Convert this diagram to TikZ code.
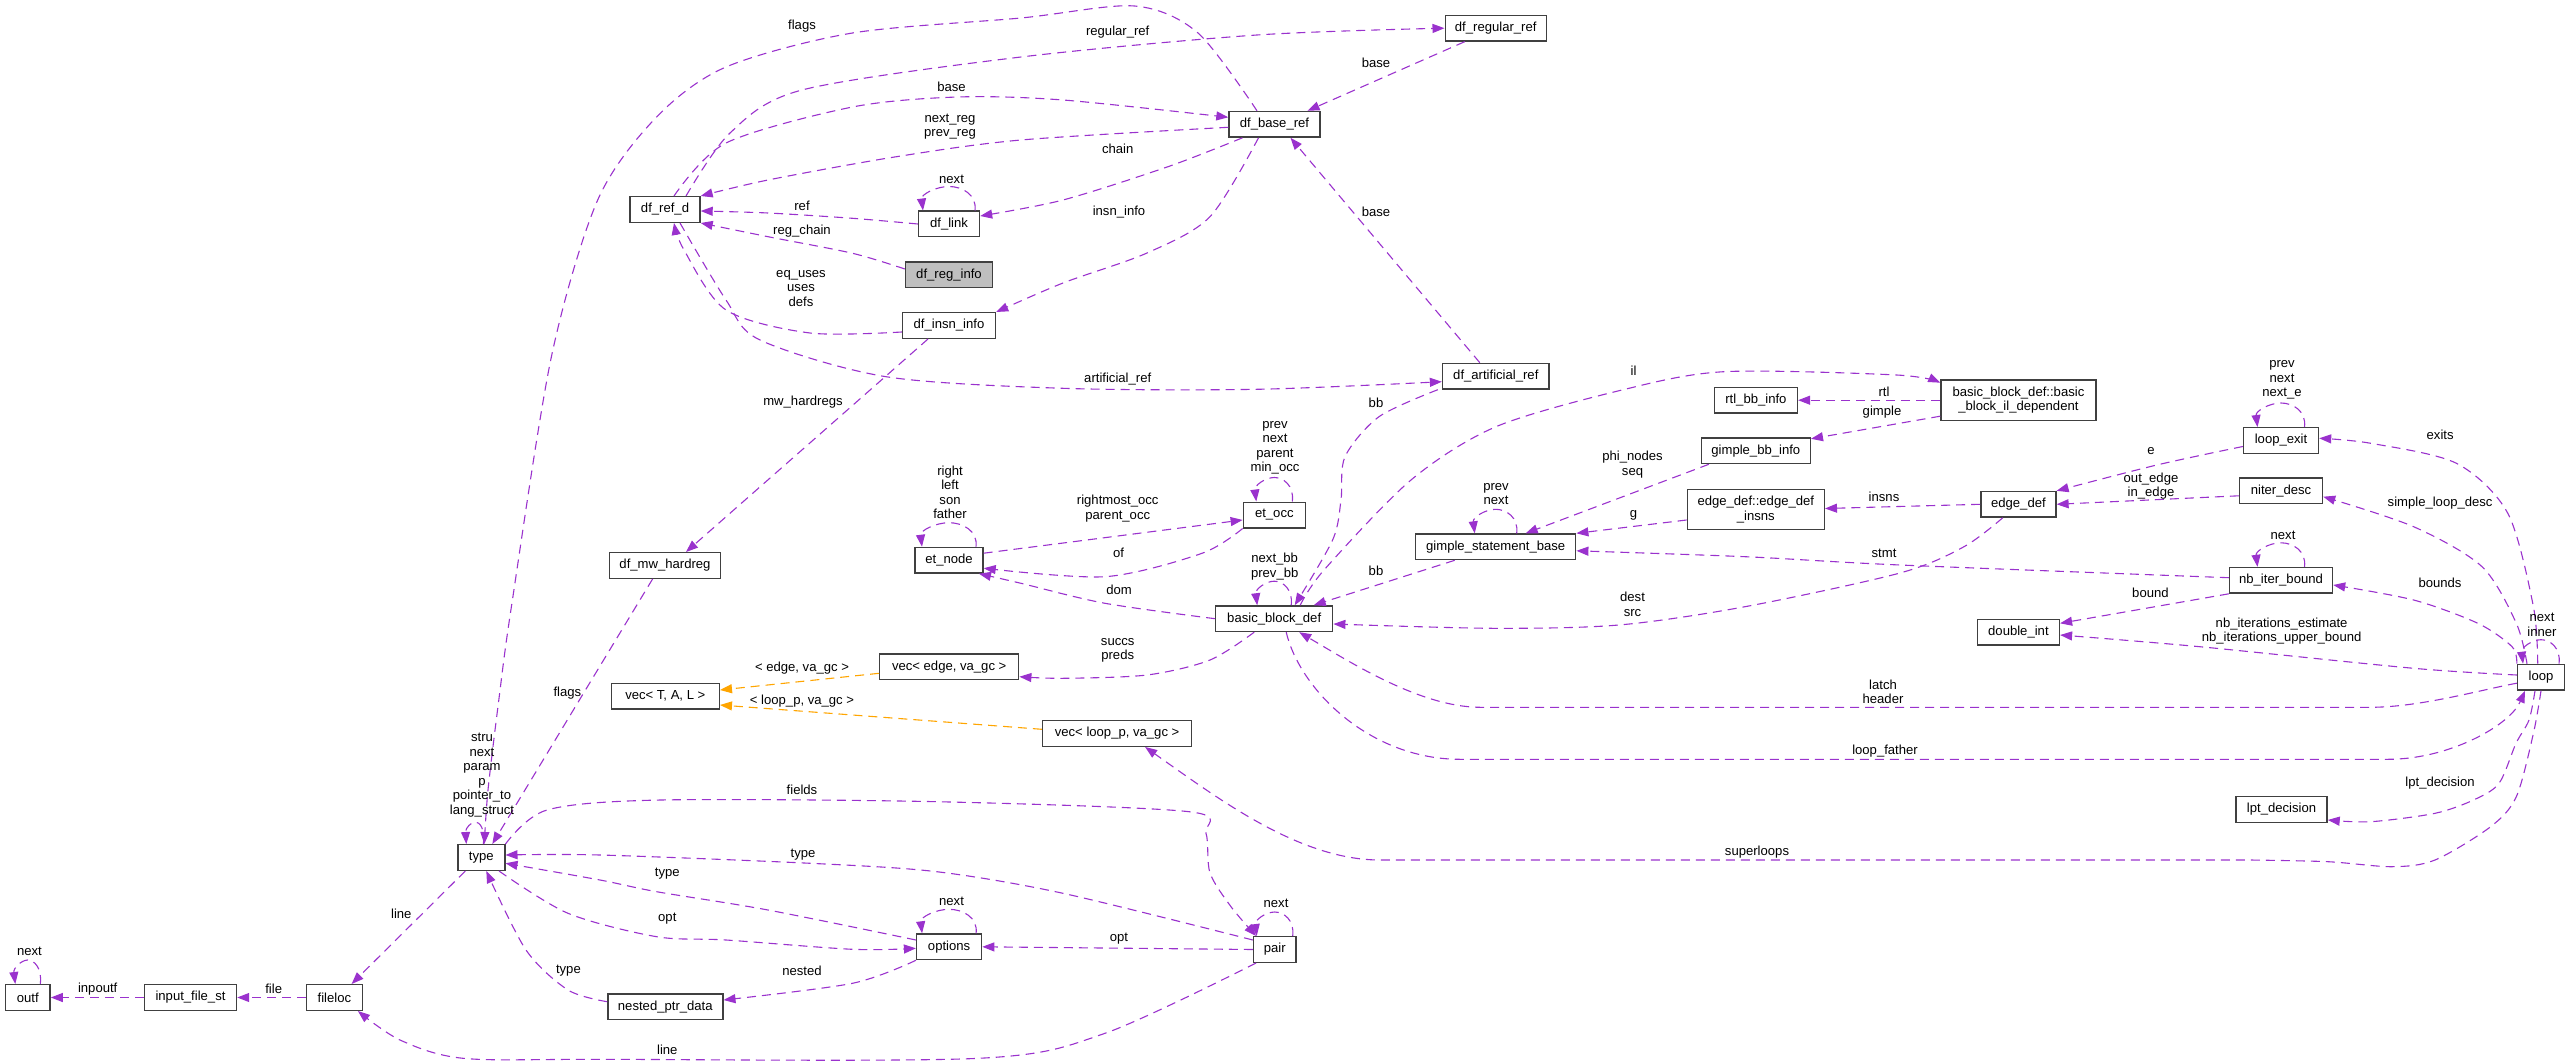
\documentclass[tikz,border=0pt]{standalone}
\usepackage{fontspec}
\setmainfont{Liberation Sans}
\usetikzlibrary{arrows.meta,calc}
\definecolor{ep}{HTML}{9A32CD}
\definecolor{eo}{HTML}{FFA500}
\definecolor{bd}{HTML}{404040}
\definecolor{gf}{HTML}{BFBFBF}
\newcommand\lblfont{\fontsize{13.1}{14.5}\selectfont}
\tikzset{
 cls/.style={draw=bd, line width=1.4pt, fill=white, minimum height=25.6pt, inner sep=0pt, font=\lblfont, text=black, align=center},
 edge/.style={draw=ep, line width=1.1pt, dash pattern=on 9pt off 6pt, -{Triangle[length=12pt,width=9pt]}},
 tedge/.style={edge, draw=eo},
 lab/.style={font=\lblfont, align=center, inner sep=0pt, text=black},
}
% self loop: node, half width
\newcommand\mkloop[2]{%
 \draw[edge] ($(#1.north)+(#2,0)$) .. controls ($(#1.north)+(#2+2,-16)$) and ($(#1.north)+(#2*0.5,-24)$) .. ($(#1.north)+(0,-24)$) .. controls ($(#1.north)+(-#2*0.5,-24)$) and ($(#1.north)+(-#2-2,-16)$) .. ($(#1.north)+(-#2,0)$);}
\begin{document}
\begin{tikzpicture}[x=1pt,y=-1pt]
\useasboundingbox (0,0) rectangle (2571,1064);
% ---------------- nodes
\node[cls, minimum width=70pt] (dfrefd) at (665,209.5) {df\_ref\_d};
\node[cls, minimum width=61pt] (dflink) at (949,224) {df\_link};
\node[cls, minimum width=87pt, fill=gf] (dfreginfo) at (949,275) {df\_reg\_info};
\node[cls, minimum width=93pt] (dfinsninfo) at (949,325.5) {df\_insn\_info};
\node[cls, minimum width=91pt] (dfbaseref) at (1274.5,124.3) {df\_base\_ref};
\node[cls, minimum width=101pt] (dfregularref) at (1495.7,28.2) {df\_regular\_ref};
\node[cls, minimum width=106.5pt] (dfartificialref) at (1495.8,376.2) {df\_artificial\_ref};
\node[cls, minimum width=62pt] (etocc) at (1274.3,515) {et\_occ};
\node[cls, minimum width=117pt] (bbdef) at (1274.2,618.7) {basic\_block\_def};
\node[cls, minimum width=160pt] (gsb) at (1495.7,546.8) {gimple\_statement\_base};
\node[cls, minimum width=83pt] (rtlbb) at (1755.9,400.2) {rtl\_bb\_info};
\node[cls, minimum width=109pt] (gimplebb) at (1755.8,450.8) {gimple\_bb\_info};
\node[cls, minimum width=137pt, minimum height=40.4pt] (edgeinsns) at (1755.8,509.5) {edge\_def::edge\_def\\\_insns};
\node[cls, minimum width=155pt, minimum height=40.4pt] (bbil) at (2018.4,400.2) {basic\_block\_def::basic\\\_block\_il\_dependent};
\node[cls, minimum width=75pt] (loopexit) at (2281,440.5) {loop\_exit};
\node[cls, minimum width=75pt] (edgedef) at (2018.4,504.3) {edge\_def};
\node[cls, minimum width=83pt] (niter) at (2281,490.8) {niter\_desc};
\node[cls, minimum width=103pt] (nbiter) at (2281,580.3) {nb\_iter\_bound};
\node[cls, minimum width=82pt] (doubleint) at (2018.4,632.2) {double\_int};
\node[cls, minimum width=47pt] (loop) at (2541,677.2) {loop};
\node[cls, minimum width=111pt] (dfmw) at (665,565.5) {df\_mw\_hardreg};
\node[cls, minimum width=68pt] (etnode) at (949,560.2) {et\_node};
\node[cls, minimum width=139pt] (vecedge) at (949.2,666.7) {vec< edge, va\_gc >};
\node[cls, minimum width=108pt] (vectal) at (665.3,696.3) {vec< T, A, L >};
\node[cls, minimum width=149pt] (vecloop) at (1117.1,733.5) {vec< loop\_p, va\_gc >};
\node[cls, minimum width=65pt] (options) at (949.1,946.8) {options};
\node[cls, minimum width=115pt] (nested) at (665.3,1006.7) {nested\_ptr\_data};
\node[cls, minimum width=42.5pt] (pair) at (1274.7,949.5) {pair};
\node[cls, minimum width=47pt] (type) at (481.3,857.5) {type};
\node[cls, minimum width=44.6pt] (outf) at (27.8,997.5) {outf};
\node[cls, minimum width=92pt] (inputfile) at (190.5,997.5) {input\_file\_st};
\node[cls, minimum width=56pt] (fileloc) at (334.4,997.5) {fileloc};
\node[cls, minimum width=91pt] (lpt) at (2281.5,809.5) {lpt\_decision};
% ---------------- edges
\draw[edge] plot[smooth] coordinates {([xshift=-17.5pt]dfbaseref.north) (1198,33) (1134.5,6) (1021,18) (852.5,33) (726,67) (656.6,117) (597.7,200) (551.4,356.7) (511.4,606.7) (498.8,700) (488,790) ([xshift=3pt]type.north)};
\draw[edge] plot[smooth] coordinates {([xshift=21pt]dfrefd.north) (730,133) (802,90) (1021,57) (1257,35) (dfregularref.west)};
\draw[edge] plot[smooth] coordinates {([xshift=9pt]dfrefd.north) (726,143) (852.5,107) (957.8,97) (1063,100) ([yshift=7pt]dfbaseref.west)};
\draw[edge] plot[smooth] coordinates {([yshift=-3pt]dfbaseref.west) (1021,140) (894.6,157) (768,180) (dfrefd.north east)};
\draw[edge] plot[smooth] coordinates {([xshift=-32pt]dfbaseref.south) (1168,166.7) (1063,200) ([yshift=8pt]dflink.east)};
\draw[edge] plot[smooth] coordinates {(dflink.west) (852.5,218.3) (768,213) ([yshift=-1.5pt]dfrefd.east)};
\mkloop{dflink}{26}
\draw[edge] plot[smooth] coordinates {([yshift=6pt]dfreginfo.west) (852.5,253.3) (768,236.7) (dfrefd.south east)};
\draw[edge] plot[smooth] coordinates {([yshift=-6.5pt]dfinsninfo.west) (810,333) (726,310) (684,250) ([xshift=9pt]dfrefd.south)};
\draw[edge] plot[smooth] coordinates {([xshift=-16pt]dfbaseref.south) (1210,216.7) (1147,253) (1063,283) (dfinsninfo.north east)};
\draw[edge] plot[smooth] coordinates {([xshift=15pt]dfrefd.south) (726,300) (760,340) (886,376.7) (1063,388.3) (1256.6,389.3) ([yshift=-5.5pt]dfartificialref.west)};
\draw[edge] ([xshift=-21pt]dfinsninfo.south) -- ([xshift=21pt]dfmw.north);
\draw[edge] ([xshift=-31pt]dfregularref.south) -- ([xshift=33pt]dfbaseref.north);
\draw[edge] ([xshift=-16pt]dfartificialref.north) -- ([xshift=16pt]dfbaseref.south);
\draw[edge] plot[smooth] coordinates {([xshift=-58pt]dfartificialref.south) (1379,416.7) (1345,456.7) (1341,500) (1332.6,540) ([xshift=20.5pt]bbdef.north)};
\draw[edge] plot[smooth] coordinates {([xshift=26pt]bbdef.north) (1324,570) (1411,480) (1496,426.7) (1622,390) (1724,371.7) (1896.6,375) ([yshift=17.5pt]bbil.west)};
\draw[edge] (bbil.west) -- (rtlbb.east);
\draw[edge] ([yshift=-16pt]bbil.west) -- ([yshift=12pt]gimplebb.east);
\draw[edge] ([xshift=-47pt]gimplebb.south) -- ([xshift=30pt]gsb.north);
\mkloop{gsb}{21}
\draw[edge] ([yshift=-10.5pt]edgeinsns.west) -- (gsb.north east);
\draw[edge] (edgedef.west) -- ([yshift=1pt]edgeinsns.east);
\draw[edge] plot[smooth] coordinates {([yshift=2.6pt]nbiter.west) (1900,565) (1745,556.7) ([yshift=-4pt]gsb.east)};
\draw[edge] ([xshift=-41pt]gsb.south) -- ([xshift=39.5pt]bbdef.north);
\draw[edge] plot[smooth] coordinates {([xshift=-15.7pt]edgedef.south) (1964,546.7) (1900,573) (1745,606.7) (1618.8,625) (1492.5,628.3) ([yshift=-5.3pt]bbdef.east)};
\mkloop{bbdef}{17}
\mkloop{etocc}{18}
\draw[edge] ([yshift=7pt]etnode.east) -- ([yshift=-5pt]etocc.west);
\draw[edge] plot[smooth] coordinates {(etocc.south west) (1202,553.3) (1105,576.7) ([yshift=-8pt]etnode.east)};
\mkloop{etnode}{27}
\draw[edge] plot[smooth] coordinates {(bbdef.west) (1105,603.3) (1021,583.3) ([xshift=30pt]etnode.south)};
\draw[edge] plot[smooth] coordinates {([xshift=-20pt]bbdef.south) (1210,660) (1147,675) (1063,678.3) ([yshift=-10pt]vecedge.east)};
\draw[tedge] ([yshift=-6.6pt]vecedge.west) -- ([yshift=6.3pt]vectal.east);
\draw[tedge] ([yshift=4.2pt]vecloop.west) -- ([yshift=-8.7pt]vectal.east);
\draw[edge] ([xshift=-12.4pt]dfmw.south) -- ([xshift=11pt]type.north);
\draw[edge] ($(type.north)+(2,0)$) .. controls ($(type.north)+(4,-16)$) and ($(type.north)+(-2,-22)$) .. ($(type.north)+(-6,-22)$) .. controls ($(type.north)+(-10,-22)$) and ($(type.north)+(-16,-16)$) .. ($(type.north)+(-15,0)$);
\draw[edge] plot[smooth] coordinates {(type.north east) (547,810) (660.8,800) (936.7,801.7) (1189,811.7) (1206,833.3) (1210,873) (1231,906.7) ([xshift=-18.7pt]pair.north)};
\mkloop{pair}{18}
\draw[edge] plot[smooth] coordinates {([yshift=9.5pt]pair.west) (1063,893.3) (936.7,871.7) (810.5,863.3) (600,855) ([yshift=2.5pt]type.east)};
\draw[edge] plot[smooth] coordinates {([yshift=6.8pt]options.west) (768,910) (656.6,891.7) (600,880) ([yshift=-5.8pt]type.east)};
\draw[edge] plot[smooth] coordinates {([xshift=17.7pt]type.south) (568,913.3) (656.6,936.7) (726,940) (852.5,949.3) ([yshift=-1.5pt]options.west)};
\mkloop{options}{27}
\draw[edge] (pair.west) -- (options.east);
\draw[edge] plot[smooth] coordinates {(options.south west) (852.5,983.3) ([yshift=6.7pt]nested.east)};
\draw[edge] plot[smooth] coordinates {([yshift=5pt]nested.west) (568,990) (526,950) ([xshift=5pt]type.south)};
\draw[edge] ([xshift=-16pt]type.south) -- ([xshift=17.2pt]fileloc.north);
\draw[edge] plot[smooth] coordinates {([xshift=-18.7pt]pair.south) (1105,1033.3) (978.8,1058.3) (600,1059.3) (463.2,1058.3) (400,1040) ([xshift=23.5pt]fileloc.south)};
\draw[edge] (fileloc.west) -- (inputfile.east);
\draw[edge] (inputfile.west) -- (outf.east);
\mkloop{outf}{12.5}
\mkloop{loopexit}{23.5}
\draw[edge] plot[smooth] coordinates {([yshift=-6pt]loopexit.west) (2156.8,465) (edgedef.north east)};
\draw[edge] ([yshift=-5pt]niter.west) -- (edgedef.east);
\mkloop{nbiter}{23.5}
\draw[edge] (nbiter.south west) -- ([yshift=8.9pt]doubleint.east);
\draw[edge] plot[smooth] coordinates {([yshift=2.2pt]loop.west) (2413.6,668.3) (2199.6,646.7) ([yshift=-2.8pt]doubleint.east)};
\draw[edge] plot[smooth] coordinates {([xshift=-3.3pt]loop.north) (2533.4,606.7) (2507.8,513.3) (2456.4,463.3) (2370.8,443.3) ([yshift=2.2pt]loopexit.east)};
\draw[edge] plot[smooth] coordinates {([xshift=-14pt]loop.north) (2516.3,623.3) (2482,566.7) (2413.6,526.7) ([yshift=-5.9pt]niter.east)};
\draw[edge] plot[smooth] coordinates {(loop.north west) (2512,646.7) (2477.8,623.3) (2413.6,600) ([yshift=-4.7pt]nbiter.east)};
\mkloop{loop}{18}
% latch / header
\draw[edge] ([yshift=-6pt]loop.west) .. controls (2480,690) and (2420,707.3) .. (2370,707.3) -- (1480,707.3) .. controls (1420,707) and (1350,662) .. ([xshift=25pt]bbdef.south);
% loop_father
\draw[edge] ([xshift=12pt]bbdef.south) .. controls (1300,690) and (1370,759.3) .. (1460,759.3) -- (2388,759.3) .. controls (2450,759.3) and (2510,725) .. ([xshift=-16pt]loop.south);
% superloops
\draw[edge] plot[smooth] coordinates {(loop.south) (2533.4,733.3) (2516.3,796.7) (2490.6,826.7) (2435,860) (2392.3,866.7) (2328,861.7) (2250,860)} -- (1380,860) .. controls (1300,860) and (1220,800) .. ([xshift=28pt]vecloop.south);
\draw[edge] plot[smooth] coordinates {([xshift=-6pt]loop.south) (2529,720) (2516,743.3) (2499,783.3) (2473.5,800) (2435,813.3) (2370.8,821.7) ([yshift=-10.5pt]lpt.east)};
% ---------------- labels
\node[lab] (l1) at (802,26) {flags};
\node[lab] (l2) at (1117.7,31.7) {regular\_ref};
\node[lab] (l3) at (951.5,87) {base};
\node[lab] (l4) at (950,126.5) {next\_reg\\prev\_reg};
\node[lab] (l5) at (1117.7,149) {chain};
\node[lab] (l6) at (951.5,179) {next};
\node[lab] (l7) at (802,205.7) {ref};
\node[lab] (l8) at (802,230.7) {reg\_chain};
\node[lab] (l9) at (1119,211.7) {insn\_info};
\node[lab] (l10) at (801,288.1) {eq\_uses\\uses\\defs};
\node[lab] (l11) at (1376,63.3) {base};
\node[lab] (l12) at (1376,211.7) {base};
\node[lab] (l13) at (1117.7,379.3) {artificial\_ref};
\node[lab] (l14) at (803,401.7) {mw\_hardregs};
\node[lab] (l15) at (1376,402.7) {bb};
\node[lab] (l16) at (1633.6,370.7) {il};
\node[lab] (l17) at (1884,391.7) {rtl};
\node[lab] (l18) at (1882,411.7) {gimple};
\node[lab] (l19) at (1632.5,464.5) {phi\_nodes\\seq};
\node[lab] (l20) at (1496,494) {prev\\next};
\node[lab] (l21) at (1633.6,515) {g};
\node[lab] (l22) at (1884,496.7) {insns};
\node[lab] (l23) at (1884,553.3) {stmt};
\node[lab] (l24) at (1376,571) {bb};
\node[lab] (l25) at (1632.5,604.5) {dest\\src};
\node[lab] (l26) at (1274.7,566.5) {next\_bb\\prev\_bb};
\node[lab] (l27) at (1275,448) {prev\\next\\parent\\min\_occ};
\node[lab] (l28) at (1117.7,508.7) {rightmost\_occ\\parent\_occ};
\node[lab] (l29) at (1118.5,553.3) {of};
\node[lab] (l30) at (950,492.5) {right\\left\\son\\father};
\node[lab] (l31) at (1119,590) {dom};
\node[lab] (l32) at (1117.7,650.5) {succs\\preds};
\node[lab] (l33) at (802,668.3) {< edge, va\_gc >};
\node[lab] (l34) at (802,701) {< loop\_p, va\_gc >};
\node[lab] (l35) at (567.4,692.7) {flags};
\node[lab] (l36) at (482,775) {stru\\next\\param\\p\\pointer\_to\\lang\_struct};
\node[lab] (l37) at (802,790) {fields};
\node[lab] (l38) at (803,855) {type};
\node[lab] (l39) at (667.3,874) {type};
\node[lab] (l40) at (667.3,919) {opt};
\node[lab] (l41) at (951.5,901.7) {next};
\node[lab] (l42) at (1119,939) {opt};
\node[lab] (l43) at (802,970.7) {nested};
\node[lab] (l44) at (568.4,970.7) {type};
\node[lab] (l45) at (401.3,914.3) {line};
\node[lab] (l46) at (667.3,1050) {line};
\node[lab] (l47) at (273.7,989.3) {file};
\node[lab] (l48) at (97.7,989.3) {inpoutf};
\node[lab] (l49) at (29.5,951.7) {next};
\node[lab] (l50) at (1276,903.3) {next};
\node[lab] (l51) at (2282,380) {prev\\next\\next\_e};
\node[lab] (l52) at (2151,450.7) {e};
\node[lab] (l53) at (2151,486.2) {out\_edge\\in\_edge};
\node[lab] (l54) at (2283,535) {next};
\node[lab] (l55) at (2150.4,593.3) {bound};
\node[lab] (l56) at (2281.6,631.2) {nb\_iterations\_estimate\\nb\_iterations\_upper\_bound};
\node[lab] (l57) at (2440.1,435) {exits};
\node[lab] (l58) at (2440.1,503.3) {simple\_loop\_desc};
\node[lab] (l59) at (2440,582.7) {bounds};
\node[lab] (l60) at (2542,624.7) {next\\inner};
\node[lab] (l61) at (1883,691.7) {latch\\header};
\node[lab] (l62) at (1885,750.7) {loop\_father};
\node[lab] (l63) at (1757,851.7) {superloops};
\node[lab] (l64) at (2440,783.3) {lpt\_decision};
\end{tikzpicture}
\end{document}
